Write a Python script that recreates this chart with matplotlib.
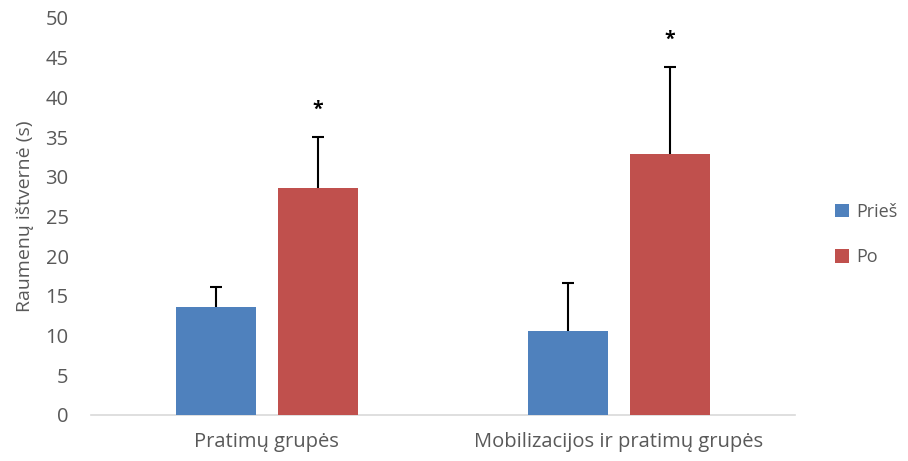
import matplotlib.pyplot as plt
import numpy as np

plt.rcParams['font.family'] = ['Open Sans', 'DejaVu Sans']

# duomenys
groups = ['Pratimų grupės', 'Mobilizacijos ir pratimų grupės']
series_names = ['Prieš', 'Po']
pries = [13.6, 10.6]
po = [28.6, 32.9]
pries_err = [2.5, 6.0]
po_err = [6.4, 10.9]
pries_stars = ['', '']
po_stars = ['*', '*']

colors = ['#4F81BD', '#C0504D']
text_gray = '#595959'

fig = plt.figure(figsize=(9.08, 4.61), dpi=100)
ax = fig.add_axes([0.1, 0.0998, 0.7756, 0.8612])

x = np.arange(len(groups))
width = 0.227
offset = 0.145

for vals, errs, stars, off, col, name in [
        (pries, pries_err, pries_stars, -offset, colors[0], series_names[0]),
        (po, po_err, po_stars, offset, colors[1], series_names[1])]:
    ax.bar(x + off, vals, width, color=col, label=name, zorder=3)
    eb = ax.errorbar(x + off, vals, yerr=[np.zeros(len(vals)), errs], fmt='none',
                     ecolor='black', elinewidth=1.5, capsize=4, capthick=1.5, zorder=4)
    # paslepti apatinį brūkšnelį
    eb[1][0].set_visible(False)
    for xi, v, e, s in zip(x + off, vals, errs, stars):
        if s:
            ax.text(xi, v + e + 2.2, s, ha='center', va='bottom', fontsize=14,
                    fontweight='bold', color='black')

ax.set_xlim(-0.5, 1.5)
ax.set_ylim(0, 50)
ax.set_yticks(np.arange(0, 51, 5))
ax.set_xticks(x)
ax.set_xticklabels(groups)
ax.tick_params(axis='both', length=0, labelsize=14.5, colors=text_gray)
ax.tick_params(axis='x', pad=12)
ax.tick_params(axis='y', pad=16)

for s in ['top', 'right', 'left']:
    ax.spines[s].set_visible(False)
ax.spines['bottom'].set_color('#d9d9d9')
ax.spines['bottom'].set_linewidth(1.2)

ax.set_ylabel('Raumenų ištvernė (s)', fontsize=14, color=text_gray, labelpad=8)

leg = ax.legend(loc='center left', bbox_to_anchor=(0.912, 0.491), bbox_transform=fig.transFigure,
                frameon=False, fontsize=13, handlelength=0.75, handleheight=0.75,
                handletextpad=0.4, labelspacing=1.5, borderpad=0.2, borderaxespad=0.2)
for t in leg.get_texts():
    t.set_color(text_gray)

fig.savefig('out.png', dpi=100)
